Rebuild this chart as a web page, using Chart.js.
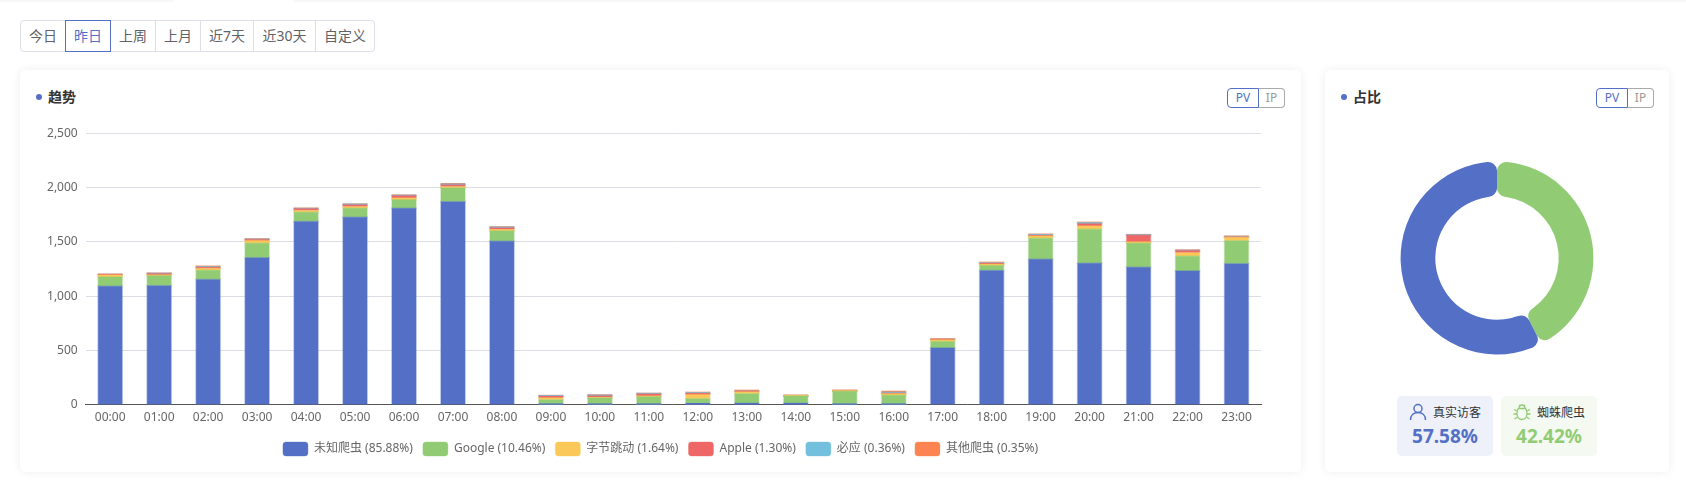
<!DOCTYPE html>
<html lang="zh">
<head>
<meta charset="utf-8">
<script src="https://cdn.jsdelivr.net/npm/chart.js@4"></script>
<style>
html,body{margin:0;padding:0;background:#fff;width:1686px;height:486px;overflow:hidden;font-family:"Noto Sans","Noto Sans CJK SC",sans-serif;color:#333}
.abs{position:absolute;box-sizing:border-box}
.strip{top:0;height:2px;background:#f8f8f9}
.seg{position:absolute;top:0;height:32px;line-height:30px;text-align:center;font-size:14px;color:#606266;box-sizing:border-box;border:1px solid #dcdfe8;border-left:0}
.seg.first{border-left:1px solid #dcdfe8;border-radius:4px 0 0 4px}
.seg.last{border-radius:0 4px 4px 0}
.seg.on{border:1px solid #5470c6;color:#5470c6;z-index:1}
.card{background:#fff;border-radius:5px;box-shadow:0 0 10px rgba(0,0,0,.07);top:70px;height:402px}
.dot{width:6px;height:6px;border-radius:50%;background:#5470c6;top:94px}
.title{font-size:14px;font-weight:700;color:#333;top:87px;line-height:20px}
.tg{top:88px;height:20px;line-height:18px;font-size:12px;text-align:center}
.pv{border:1px solid #5470c6;color:#5470c6;border-radius:4px 0 0 4px;width:32px}
.ip{border:1px solid #aaa;border-left:0;color:#999;border-radius:0 4px 4px 0;width:26px}
.stat{top:396px;width:96px;height:60px;border-radius:5px}
.stat .name{position:absolute;left:0;right:0;top:9px;line-height:16px;font-size:12px;color:#333;padding-left:24px;box-sizing:border-box;text-align:center}
.stat svg{position:absolute;left:12px;top:7px}
.stat .pct{position:absolute;left:0;right:0;top:26px;line-height:28px;text-align:center;font-size:19px;font-weight:700}
canvas{display:block}
</style>
</head>
<body>
<div class="abs strip" style="left:0;width:173px"></div>
<div class="abs strip" style="left:293px;right:0"></div>

<div class="abs" style="left:20px;top:20px;width:355px;height:32px">
  <div class="seg first" style="left:0;width:46px">今日</div>
  <div class="seg on" style="left:45px;width:46px">昨日</div>
  <div class="seg" style="left:91px;width:45px">上周</div>
  <div class="seg" style="left:136px;width:45px">上月</div>
  <div class="seg" style="left:181px;width:53px">近7天</div>
  <div class="seg" style="left:234px;width:62px">近30天</div>
  <div class="seg last" style="left:296px;width:59px">自定义</div>
</div>

<div class="abs card" style="left:20px;width:1281px"></div>
<div class="abs card" style="left:1325px;width:344px"></div>

<div class="abs dot" style="left:36px"></div>
<div class="abs title" style="left:48px">趋势</div>
<div class="abs tg pv" style="left:1227px">PV</div>
<div class="abs tg ip" style="left:1259px">IP</div>

<div class="abs dot" style="left:1341px"></div>
<div class="abs title" style="left:1353px">占比</div>
<div class="abs tg pv" style="left:1596px">PV</div>
<div class="abs tg ip" style="left:1628px">IP</div>

<div class="abs" style="left:20px;top:118px;width:1281px;height:352px"><canvas id="trend"></canvas></div>
<div class="abs" style="left:1387px;top:148px;width:220px;height:220px"><canvas id="share"></canvas></div>

<div class="abs stat" style="left:1397px;background:#eef1fa">
  <svg width="18" height="18" viewBox="0 0 18 18" fill="none" stroke="#5470c6" stroke-width="1.5"><circle cx="9" cy="5.5" r="4"/><path d="M1.5 17c0-4.5 3-7.5 7.500-7.500s7.500 3 7.500 7.500"/></svg>
  <div class="name">真实访客</div>
  <div class="pct" style="color:#5470c6" id="pctA"></div>
</div>
<div class="abs stat" style="left:1501px;background:#f4f9f1">
  <svg width="18" height="18" viewBox="0 0 18 18" fill="none" stroke="#91cc75" stroke-width="1.3"><path d="M5.500 5.500h7c1 1 1.500 2.500 1.500 5 0 3.500-2 6-5 6s-5-2.500-5-6c0-2.500.5-4 1.500-5z"/><path d="M6 5.500c0-2 1.300-3.500 3-3.500s3 1.500 3 3.500M6 2L7.200 3.300M12 2l-1.200 1.300M1 6.500l3 1.500M17 6.500l-3 1.500M.5 11H4M17.500 11H14M1.500 16l3-2M16.500 16l-3-2"/></svg>
  <div class="name">蜘蛛爬虫</div>
  <div class="pct" style="color:#91cc75" id="pctB"></div>
</div>

<script>
const hours = ["00:00","01:00","02:00","03:00","04:00","05:00","06:00","07:00","08:00","09:00","10:00","11:00","12:00","13:00","14:00","15:00","16:00","17:00","18:00","19:00","20:00","21:00","22:00","23:00"];
const unknownBots = [1090,1095,1152,1354,1688,1725,1808,1869,1504,3,3,3,9,12,12,2,2,521,1235,1339,1302,1265,1232,1299];
const google =      [85,92,85,132,83,83,79,126,95,43,58,71,46,89,68,121,84,61,46,193,313,221,135,211];
const bytedance =   [20,5,20,25,18,15,16,12,13,18,2,3,40,19,1,3,15,15,12,21,30,12,33,31];
const apple =       [3,15,8,7,15,18,21,18,18,13,20,21,6,2,1,2,2,3,5,6,22,62,19,2];
const bing =        [1,1,6,5,2,4,3,6,4,6,3,4,7,1,1,1,12,1,6,8,6,2,2,5];
const otherBots =   [1,2,3,2,2,1,1,2,2,1,3,2,6,9,3,3,8,3,8,2,6,4,2,3];
const seriesNames = ["未知爬虫 (85.88%)","Google (10.46%)","字节跳动 (1.64%)","Apple (1.30%)","必应 (0.36%)","其他爬虫 (0.35%)"];
const seriesColors = ["#5470c6","#91cc75","#fac858","#ee6666","#73c0de","#fc8452"];
const seriesEdges = ["rgba(84,112,198,.35)","rgba(145,204,117,.35)","rgba(250,200,88,.35)","rgba(238,102,102,.35)","rgba(115,192,222,.35)","rgba(252,132,82,.35)"];
const yTicks = [0,500,1000,1500,2000,2500];
const shareLabels = ["蜘蛛爬虫","真实访客"];
const shareValues = [42.42,57.58];
const shareColors = ["#91cc75","#5470c6"];

document.getElementById("pctA").textContent = shareValues[1].toFixed(2) + "%";
document.getElementById("pctB").textContent = shareValues[0].toFixed(2) + "%";

const FONT = '"Noto Sans","Noto Sans CJK SC",sans-serif';
const values = [unknownBots,google,bytedance,apple,bing,otherBots];

new Chart(document.getElementById("trend"),{
  type:"bar",
  data:{
    labels:hours,
    datasets:values.map((d,i)=>({
      label:seriesNames[i],data:d,
      backgroundColor:seriesColors[i],borderColor:seriesEdges[i],
      borderWidth:1,borderSkipped:false,inflateAmount:1,
      barPercentage:0.49,categoryPercentage:1
    }))
  },
  options:{
    responsive:true,maintainAspectRatio:false,animation:false,
    layout:{padding:{left:0,right:0,top:10,bottom:4}},
    plugins:{
      tooltip:{enabled:false},
      legend:{
        position:"bottom",
        labels:{boxWidth:25,boxHeight:14,padding:10,color:"#666",useBorderRadius:true,borderRadius:3,
          font:{family:FONT,size:12}}
      }
    },
    scales:{
      x:{stacked:true,
        grid:{display:false,drawTicks:false},
        border:{color:"#555",width:1},
        ticks:{color:"#666",font:{family:FONT,size:12},padding:6,maxRotation:0,autoSkip:false},
        afterFit:s=>{s.height=27.3;}
      },
      y:{stacked:true,min:0,max:2500,
        afterBuildTicks:s=>{s.ticks=yTicks.map(v=>({value:v}));},
        grid:{color:"#dcdde5",drawTicks:false},
        border:{display:false},
        ticks:{color:"#666",font:{family:FONT,size:12},padding:8,callback:v=>v.toLocaleString("en-US")},
        afterFit:s=>{s.width=65.7;}
      },
      spacer:{position:"right",display:true,
        grid:{display:false,drawTicks:false},
        border:{display:false},
        ticks:{display:false},
        afterFit:s=>{s.width=40;}
      }
    }
  }
});

new Chart(document.getElementById("share"),{
  type:"doughnut",
  data:{labels:shareLabels,datasets:[{data:shareValues,backgroundColor:shareColors,borderWidth:0,borderRadius:9,hoverOffset:0}]},
  options:{
    responsive:true,maintainAspectRatio:false,animation:false,
    cutout:"64%",radius:96.4,
    layout:{padding:0},
    plugins:{legend:{display:false},tooltip:{enabled:false}}
  }
});
</script>
</body>
</html>
